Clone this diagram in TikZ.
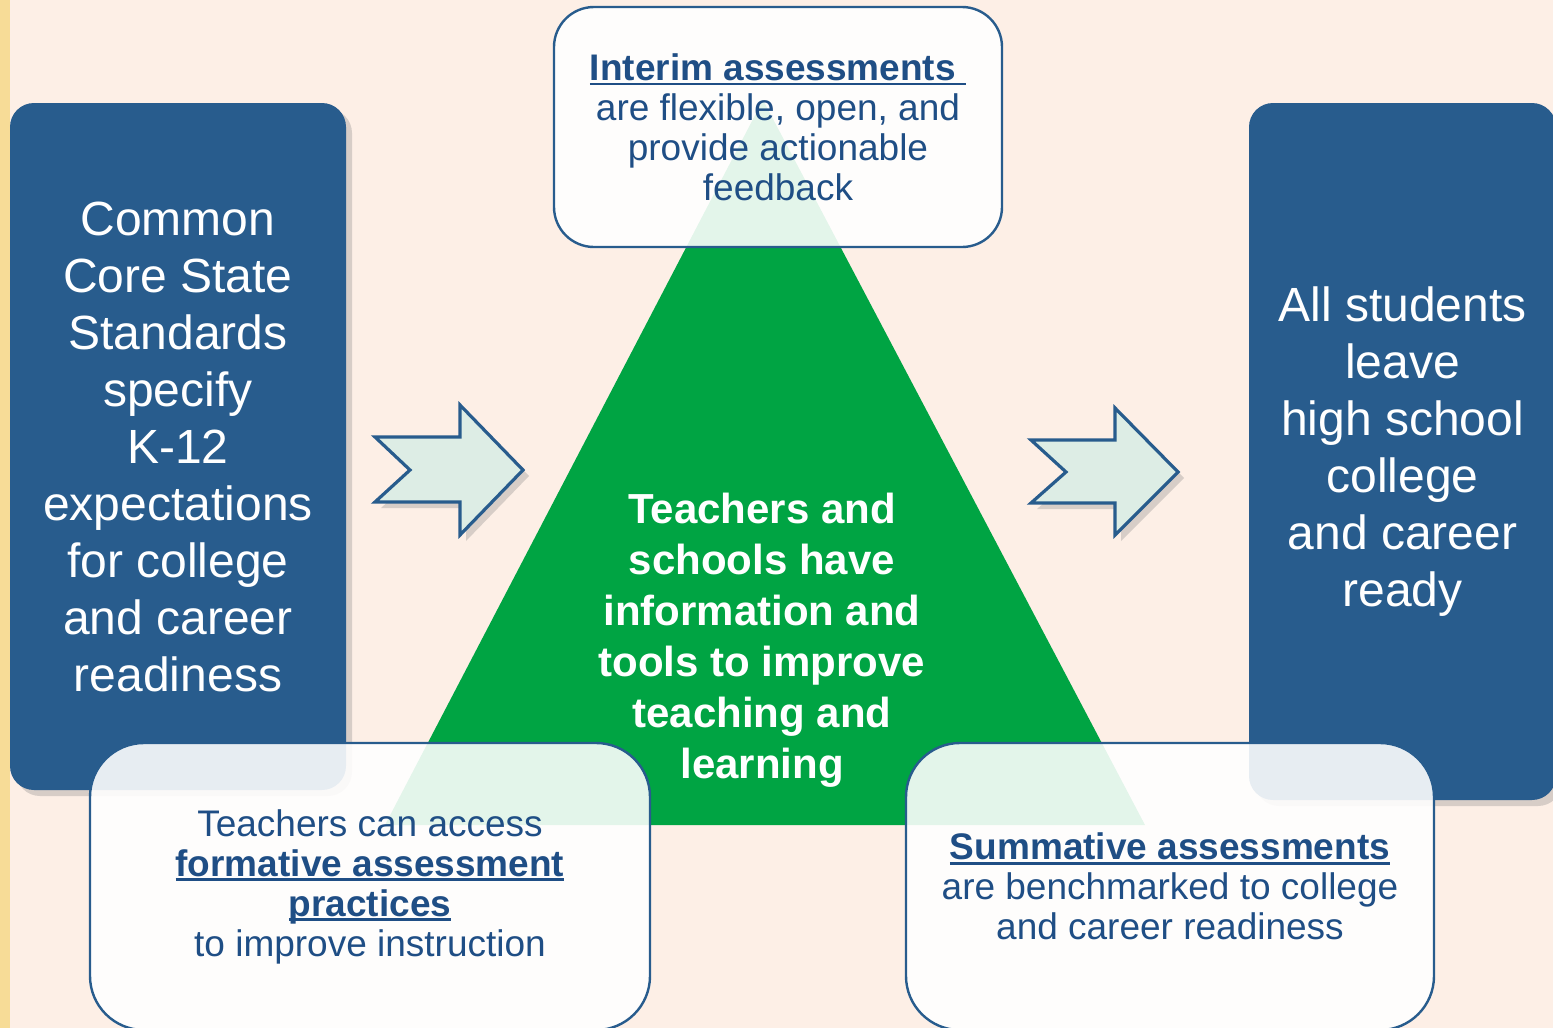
\documentclass[tikz,border=0pt]{standalone}
\usepackage{fontspec}
\setmainfont{Liberation Sans}
\usetikzlibrary{shadows}

\definecolor{pagebg}{HTML}{FDEFE6}
\definecolor{stripyellow}{HTML}{F7DC97}
\definecolor{boxblue}{HTML}{285C8D}
\definecolor{trigreen}{HTML}{00A443}
\definecolor{arrowfill}{HTML}{DDEDE5}
\definecolor{textblue}{HTML}{1F4E85}

\newcommand{\undl}[1]{\setbox0\hbox{#1}\rlap{\rule[-2.6pt]{\wd0}{1.4pt}}\box0}

\begin{document}
\begin{tikzpicture}[x=0.5pt,y=-0.5pt,
    blue box/.style={rectangle,rounded corners=12pt,fill=boxblue,text=white,align=center,inner sep=0pt,
        font=\fontsize{24}{28.5}\selectfont,
        drop shadow={opacity=0.3,shadow xshift=3pt,shadow yshift=-3pt}},
    note box/.style={rectangle,rounded corners=#1,draw=boxblue,line width=1.2pt,fill=white,fill opacity=0.89,
        text opacity=1,text=textblue,align=center,inner sep=0pt,font=\fontsize{18.5}{20}\selectfont},
    block arrow/.style={fill=arrowfill,draw=boxblue,line width=1.6pt,line join=miter,
        drop shadow={opacity=0.3,shadow xshift=3pt,shadow yshift=-3pt}}]

            \useasboundingbox (0,0) rectangle (1553,1028);
            \clip (0,0) rectangle (1553,1028);
            \fill[pagebg] (0,0) rectangle (1553,1028);
            \fill[stripyellow] (0,0) rectangle (10,1028);

            % triangle in the middle
            \fill[trigreen] (385,825) -- (763,100) -- (1145,825) -- cycle;
            \node[text=white,align=center,font=\bfseries\fontsize{21}{25.5}\selectfont] (1) at (762,640)
                {Teachers and\\schools have\\information and\\tools to improve\\teaching and\\learning};

            \node[blue box,minimum width=168pt,minimum height=343.5pt] (2) at (178,446.5)
                {Common\\Core State\\Standards\\specify\\K-12\\expectations\\for college\\and career\\readiness};
            \node[blue box,minimum width=153.5pt,minimum height=348.5pt] (3) at (1402.5,451.5)
                {All students\\leave\\high school\\college\\and career\\ready};

            % arrows
            \draw[block arrow] (375,437) -- (460,437) -- (460,405) -- (523,470) -- (460,535)
                -- (460,502) -- (375,502) -- (410,470) -- cycle;
            \draw[block arrow] (1031,440) -- (1115,440) -- (1115,408) -- (1178,472) -- (1115,535)
                -- (1115,503) -- (1031,503) -- (1066,472) -- cycle;

            \node[note box=20pt,minimum width=224pt,minimum height=120pt] (4) at (778,127)
                {\undl{\textbf{Interim assessments\ }}\\are flexible, open, and\\provide actionable\\feedback};
            \node[note box=27pt,minimum width=280pt,minimum height=143.5pt] (5) at (370,886.5)
                {Teachers can access\\\undl{\textbf{formative assessment}}\\\undl{\textbf{practices}}\\to improve instruction};
            \node[note box=27pt,minimum width=264pt,minimum height=143.5pt] (6) at (1170,886.5)
                {\undl{\textbf{Summative assessments}}\\are benchmarked to college\\and career readiness};
        \end{tikzpicture}
\end{document}
